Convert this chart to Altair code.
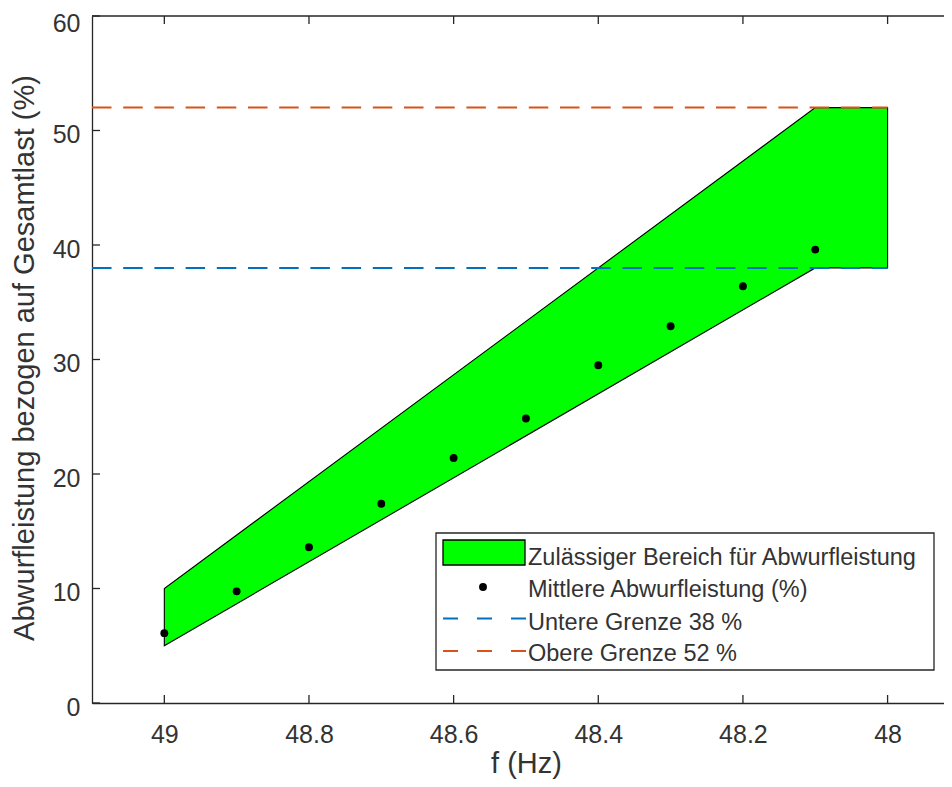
import altair as alt
import pandas as pd

# ---------------- data ----------------
poly_f = [49.0, 48.1, 48.0]
poly_lower = [5, 38, 38]
poly_upper = [10, 52, 52]

mean_f = [49.0, 48.9, 48.8, 48.7, 48.6, 48.5, 48.4, 48.3, 48.2, 48.1]
mean_val = [6.1, 9.75, 13.6, 17.4, 21.4, 24.85, 29.5, 32.9, 36.4, 39.6]

limit_names = ["Untere Grenze 38 %", "Obere Grenze 52 %"]
limit_vals = [38, 52]
limit_f = [49.1, 48.0]
limit_colors = ["#0072BD", "#D95319"]

legend_labels = [
    "Zulässiger Bereich für Abwurfleistung",
    "Mittlere Abwurfleistung (%)",
    "Untere Grenze 38 %",
    "Obere Grenze 52 %",
]

x_ticks = [49, 48.8, 48.6, 48.4, 48.2, 48]
y_ticks = [0, 10, 20, 30, 40, 50, 60]
x_domain = [47.922, 49.1]
y_domain = [0, 60]

# ---------------- styling ----------------
W, H = 852, 687
FONT = "Liberation Sans"
AX = "#262626"
TXT = "#333333"
GREEN = "#00FF00"

poly_df = pd.DataFrame({"f": poly_f, "lo": poly_lower, "hi": poly_upper})
mean_df = pd.DataFrame({"f": mean_f, "v": mean_val})
lim_rows = []
for name, val in zip(limit_names, limit_vals):
    for f in limit_f:
        lim_rows.append({"f": f, "v": val, "s": name})
lim_df = pd.DataFrame(lim_rows)
xt_df = pd.DataFrame({"f": x_ticks})
yt_df = pd.DataFrame({"v": y_ticks})
one = pd.DataFrame({"k": [0]})

xs = alt.Scale(domain=x_domain, reverse=True, nice=False, zero=False)
ys = alt.Scale(domain=y_domain, nice=False, zero=False)

xaxis = alt.Axis(
    values=x_ticks, format="~g", ticks=False, tickSize=0, grid=False,
    domainColor=AX, domainWidth=1.3,
    labelFont=FONT, labelFontSize=25, labelColor=TXT, labelPadding=39,
    labelBaseline="alphabetic", labelFlush=False, labelOverlap=False,
    title="f (Hz)", titleFont=FONT, titleFontSize=29, titleFontWeight="normal",
    titleColor=TXT, titleX=434, titleY=69, titleBaseline="alphabetic",
    titleAlign="center",
)
yaxis = alt.Axis(
    values=y_ticks, ticks=False, tickSize=0, grid=False,
    domainColor=AX, domainWidth=1.3,
    labelFont=FONT, labelFontSize=25, labelColor=TXT, labelPadding=12,
    labelBaseline="alphabetic",
    labelOffset={"condition": {"test": "datum.value == 60", "value": 15}, "value": 12},
    labelFlush=False, labelOverlap=False,
    title="Abwurfleistung bezogen auf Gesamtlast (%)", titleFont=FONT,
    titleFontSize=29, titleFontWeight="normal", titleColor=TXT,
    titleX=-58.5, titleY=341.5, titleAngle=270, titleBaseline="alphabetic",
    titleAlign="center",
)


def X(field):
    return alt.X(field, type="quantitative", scale=xs, axis=xaxis)


def Y(field):
    return alt.Y(field, type="quantitative", scale=ys, axis=yaxis)


area = alt.Chart(poly_df).mark_area(
    fill=GREEN, stroke="black", strokeWidth=1.1, opacity=1, fillOpacity=1
).encode(x=X("f"), y=Y("lo"), y2="hi")

limits = alt.Chart(lim_df).mark_line(strokeDash=[19.5, 11.7], strokeWidth=2).encode(
    x=X("f"), y=Y("v"),
    color=alt.Color("s:N", scale=alt.Scale(domain=limit_names, range=limit_colors), legend=None),
)

points = alt.Chart(mean_df).mark_circle(size=62, color="black", opacity=1).encode(
    x=X("f"), y=Y("v")
)

tick_style = dict(color=AX, strokeWidth=1.3)
xt_bottom = alt.Chart(xt_df).mark_rule(**tick_style).encode(
    x=X("f"), y=alt.value(H), y2=alt.value(H - 8))
xt_top = alt.Chart(xt_df).mark_rule(**tick_style).encode(
    x=X("f"), y=alt.value(0), y2=alt.value(8))
yt_left = alt.Chart(yt_df).mark_rule(**tick_style).encode(
    y=Y("v"), x=alt.value(0), x2=alt.value(8))
top_border = alt.Chart(one).mark_rule(**tick_style).encode(
    x=alt.value(0), x2=alt.value(W), y=alt.value(0))

# ---------------- legend ----------------
leg_layers = []
leg_layers.append(alt.Chart(one).mark_rect(fill="white", stroke=AX, strokeWidth=1.3).encode(
    x=alt.value(344), x2=alt.value(842), y=alt.value(517), y2=alt.value(654)))
leg_layers.append(alt.Chart(one).mark_rect(fill=GREEN, stroke="black", strokeWidth=1.3).encode(
    x=alt.value(351), x2=alt.value(433), y=alt.value(524), y2=alt.value(549)))
leg_layers.append(alt.Chart(one).mark_circle(size=62, color="black", opacity=1).encode(
    x=alt.value(391), y=alt.value(571)))
for col, yy in zip(limit_colors, [602.5, 635]):
    leg_layers.append(alt.Chart(one).mark_rule(color=col, strokeWidth=2, strokeDash=[15, 19]).encode(
        x=alt.value(351), x2=alt.value(434), y=alt.value(yy)))
for lab, yy in zip(legend_labels, [548.5, 580.5, 613.5, 645]):
    leg_layers.append(alt.Chart(one).mark_text(
        align="left", baseline="alphabetic", font=FONT, fontSize=23.5, color=TXT
    ).encode(x=alt.value(436), y=alt.value(yy), text=alt.value(lab)))

chart = alt.layer(
    area, limits, points, xt_bottom, xt_top, yt_left, top_border, *leg_layers
).properties(
    width=W, height=H,
    padding={"left": 84, "top": 8, "right": 0, "bottom": 76},
    autosize=alt.AutoSizeParams(type="none"),
    background="white",
).configure_view(stroke=None)

chart.save("out.html", embed_options={"renderer": "svg", "actions": False})
